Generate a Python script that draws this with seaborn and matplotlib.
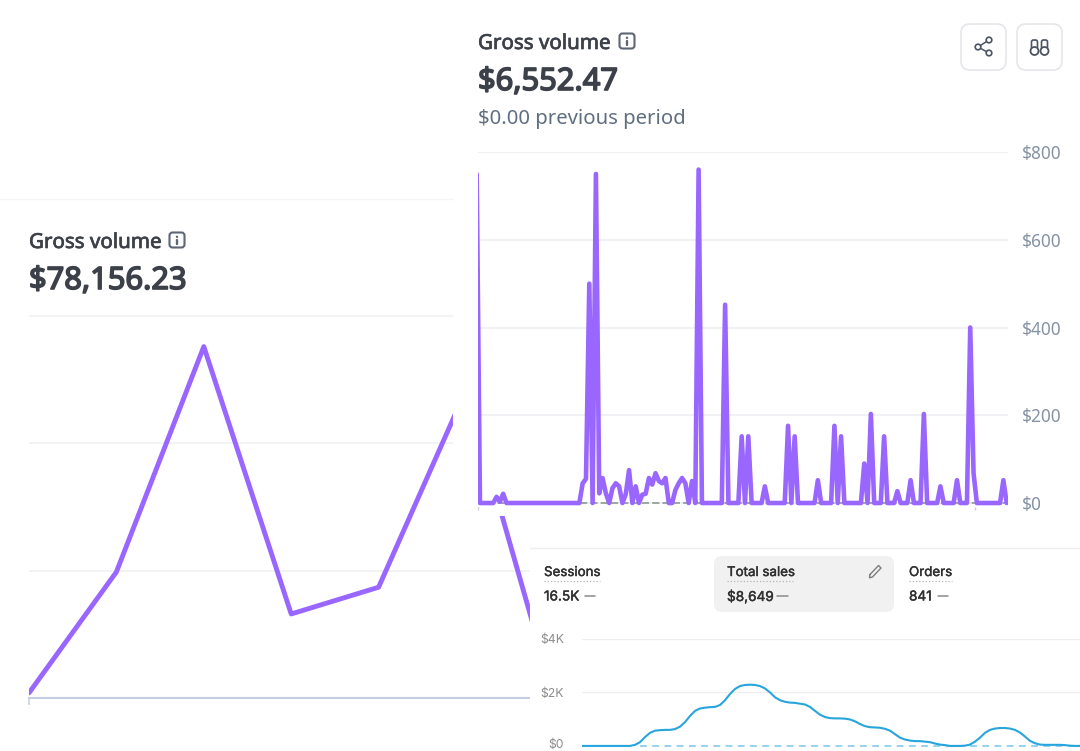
import matplotlib
matplotlib.use("Agg")
import matplotlib.pyplot as plt
import matplotlib.patheffects as pe
from matplotlib.patches import Circle, FancyBboxPatch, Rectangle
from matplotlib.transforms import ScaledTranslation
import seaborn as sns

W, H = 1080, 751

# left card, thousands of dollars per period
left_periods = [0, 1, 2, 3, 4, 5, 6]
left_values = [0.4, 9.9, 27.6, 6.6, 8.7, 24.2, 0.2]
left_ticks = [0, 10, 20, 30]

# right card, one value per day
right_values = [
    750, 0, 0, 0, 0, 0, 14, 3, 21, 0,
    0, 0, 0, 0, 0, 0, 0, 0, 0, 0,
    0, 0, 0, 0, 0, 0, 0, 0, 0, 0,
    0, 0, 45, 55, 500, 0, 750, 22, 57, 22,
    0, 34, 45, 38, 0, 20, 75, 0, 38, 0,
    19, 21, 57, 42, 68, 50, 45, 57, 0, 0,
    30, 45, 57, 45, 0, 50, 0, 760, 0, 0,
    0, 0, 0, 0, 0, 452, 0, 0, 0, 0,
    152, 0, 152, 0, 0, 0, 0, 38, 0, 0,
    0, 0, 0, 0, 176, 0, 152, 0, 0, 0,
    0, 0, 0, 52, 0, 0, 0, 0, 176, 0,
    152, 0, 0, 0, 0, 0, 0, 90, 0, 203,
    0, 0, 0, 152, 0, 0, 0, 27, 0, 0,
    0, 52, 0, 0, 0, 203, 0, 0, 0, 0,
    38, 0, 0, 0, 0, 52, 0, 0, 0, 400,
    68, 0, 0, 0, 0, 0, 0, 0, 0, 52,
    0,
]
right_previous = [0] * len(right_values)
right_ticks = [0, 200, 400, 600, 800]
right_labels = ["$0", "$200", "$400", "$600", "$800"]
right_marks = [0.4, 150.4]

# bottom card, thousands of dollars
sales_values = [
    0, 0, 0, 0, 0, 0, 0, 0, 0, 0, 0,
    0.04, 0.14, 0.33, 0.49, 0.57, 0.59, 0.6, 0.6, 0.63, 0.72,
    0.89, 1.12, 1.31, 1.4, 1.43, 1.45, 1.46, 1.53, 1.71, 1.94,
    2.13, 2.24, 2.28, 2.29, 2.28, 2.24, 2.15, 2.0, 1.82, 1.71,
    1.65, 1.62, 1.61, 1.58, 1.55, 1.46, 1.31, 1.17, 1.08, 1.04,
    1.03, 1.03, 1.02, 0.99, 0.92, 0.82, 0.74, 0.7, 0.69, 0.68,
    0.64, 0.57, 0.44, 0.31, 0.24, 0.2, 0.18, 0.18, 0.16, 0.14,
    0.09, 0.05, 0.03, 0, 0, 0, 0.01, 0.05, 0.16, 0.31,
    0.49, 0.6, 0.65, 0.67, 0.67, 0.65, 0.6, 0.5, 0.35, 0.19,
    0.1, 0.05, 0.04, 0.04, 0.04, 0.04, 0.03, 0.01, 0, 0,
]
sales_previous = [0] * (len(sales_values) - 12)
sales_ticks = [0, 2, 4]
sales_labels = ["$0", "$2K", "$4K"]

sns.set_theme(style="white")
plt.rcParams["font.family"] = ["Noto Sans", "DejaVu Sans"]

PURPLE = "#9966ff"
BLUE = "#27a5dd"
GRID = "#eef0f3"
INK = "#3c4149"
SLATE = "#5f6e80"
TICK = "#8592a3"


def px_axes(x0, y0, x1, y1, zorder):
    a = fig.add_axes([x0 / W, 1 - y1 / H, (x1 - x0) / W, (y1 - y0) / H], zorder=zorder)
    a.patch.set_alpha(0)
    sns.despine(ax=a, left=True, bottom=True, right=True, top=True)
    return a


fig = plt.figure(figsize=(W / 100, H / 100), dpi=100, facecolor="white")

# left chart, partly hidden by the two cards on top
ax_left = px_axes(29, 314, 640, 698, 0)
sns.lineplot(x=left_periods, y=left_values, ax=ax_left, color=PURPLE, linewidth=3.5,
             solid_joinstyle="round", errorbar=None)
ax_left.set_xlim(0, 611 / 87.4)
ax_left.set_ylim(0, 30 + 2 / 12.73)
ax_left.set_yticks(left_ticks[1:], [""] * 3)
ax_left.set_xticks([0], [""])
ax_left.tick_params(axis="x", bottom=True, length=5, width=1.5, color="#d6dbe8")
ax_left.tick_params(axis="y", length=0)
ax_left.grid(axis="y", color=GRID, linewidth=1.1)
ax_left.spines["bottom"].set_visible(True)
ax_left.spines["bottom"].set_color("#c6cde0")
ax_left.spines["bottom"].set_linewidth(1.5)

# white cards
ax_cover = px_axes(0, 0, W, H, 1)
ax_cover.set_xlim(0, W)
ax_cover.set_ylim(H, 0)
ax_cover.axis("off")
ax_cover.add_patch(Rectangle((453, 0), 627, 516, color="white", lw=0))
ax_cover.add_patch(Rectangle((530, 548), 550, 203, color="white", lw=0))

# right chart
ax_right = px_axes(478, 152, 1008, 507.4, 2)
days = list(range(len(right_values)))
sns.lineplot(x=days, y=right_previous, ax=ax_right, color="#9aa6a0", linewidth=1.4,
             linestyle="--", errorbar=None)
sns.lineplot(x=days, y=right_values, ax=ax_right, color=PURPLE, linewidth=3.3,
             solid_joinstyle="round", errorbar=None)
ax_right.set_xlim(0.4, 160.4)
ax_right.set_ylim(-10, 800)
ax_right.yaxis.tick_right()
ax_right.set_yticks(right_ticks, right_labels)
ax_right.set_xticks(right_marks, ["", ""])
ax_right.tick_params(axis="x", bottom=True, length=2.5, width=1, color="#c9ced6")
ax_right.tick_params(axis="y", length=0, pad=10, labelsize=12.4, labelcolor=TICK)
ax_right.grid(axis="y", color=GRID, linewidth=1.3)
ax_right.set_axisbelow(True)

# bottom chart
ax_sales = px_axes(582, 639, 1080, 751, 2)
sales_x = list(range(len(sales_values)))
sns.lineplot(x=sales_x[12:], y=sales_previous, ax=ax_sales, color="#7cc6e8", linewidth=1.1,
             linestyle=(0, (4.5, 3.5)), errorbar=None)
sns.lineplot(x=sales_x, y=sales_values, ax=ax_sales, color=BLUE, linewidth=1.5, errorbar=None)
ax_sales.set_xlim(0.4, 100)
ax_sales.set_ylim(-0.19, 4)
ax_sales.set_yticks(sales_ticks, sales_labels)
ax_sales.set_xticks([])
ax_sales.tick_params(axis="y", length=0, pad=13, labelsize=8.8, labelcolor="#8c8c8c")
for label in ax_sales.get_yticklabels():
    label.set_fontfamily(["Inter", "DejaVu Sans"])
zero_label = ax_sales.get_yticklabels()[0]
zero_label.set_transform(zero_label.get_transform() + ScaledTranslation(0, 2 / 72, fig.dpi_scale_trans))
ax_sales.grid(axis="y", color="#eeeeee", linewidth=0.9)
ax_sales.get_ygridlines()[0].set_visible(False)

# text, buttons and icons
ax_top = px_axes(0, 0, W, H, 5)
ax_top.set_xlim(0, W)
ax_top.set_ylim(H, 0)
ax_top.axis("off")

ax_top.plot([0, 453], [199, 199], color="#f6f6f6", lw=1)
ax_top.plot([530, 1080], [548, 548], color="#eceef0", lw=1)


def heavy(width, color):
    # the text families here only come in one weight
    return [pe.withStroke(linewidth=width, foreground=color)]


def info_icon(x, y):
    ax_top.add_patch(FancyBboxPatch((x - 7.5, y - 7.5), 15, 15, boxstyle="round,pad=0,rounding_size=3",
                                    fill=False, ec="#5d6675", lw=1.5))
    ax_top.add_patch(Circle((x, y - 3.2), 1.2, color="#5d6675", lw=0))
    ax_top.plot([x, x], [y - 0.5, y + 4], color="#5d6675", lw=1.7)


for x, y, amount in [(29, 243, "$78,156.23"), (478, 44, "$6,552.47")]:
    ax_top.text(x, y, "Gross volume", fontsize=14.8, color=INK, va="center", ha="left",
                path_effects=heavy(0.5, INK))
    ax_top.text(x, y + 38, amount, fontsize=22.2, color=INK, va="center", ha="left",
                path_effects=heavy(1.2, INK))
info_icon(177, 240)
info_icon(627, 41)
ax_top.text(478, 119, "$0.00 previous period", fontsize=14.6, color=SLATE, va="center", ha="left")

# share and binoculars buttons
for x in [961, 1017]:
    ax_top.add_patch(FancyBboxPatch((x, 24), 45, 46, boxstyle="round,pad=0,rounding_size=9",
                                    fc="white", ec="#e6e8ec", lw=1.3))
for cx, cy in [(989, 40), (978, 47), (989, 53)]:
    ax_top.add_patch(Circle((cx, cy), 2.8, fc="white", ec="#4a5362", lw=1.2, zorder=3))
ax_top.plot([989, 978, 989], [40, 47, 53], color="#4a5362", lw=1.1, zorder=2)
for cx in [1034.5, 1044.5]:
    ax_top.add_patch(Circle((cx, 51), 4, fc="white", ec="#4a5362", lw=1.3, zorder=3))
    ax_top.add_patch(FancyBboxPatch((cx - 3, 40), 6, 9, boxstyle="round,pad=0,rounding_size=2",
                                    fill=False, ec="#4a5362", lw=1.2))

# metric tiles
ax_top.add_patch(FancyBboxPatch((714, 556), 180, 56, boxstyle="round,pad=0,rounding_size=8",
                                fc="#f1f1f1", ec="none"))
for x, name, val, w in [(544, "Sessions", "16.5K", 56), (727, "Total sales", "$8,649", 66), (909, "Orders", "841", 43)]:
    ax_top.text(x, 573, name, fontsize=9.6, color="#303030", va="center", ha="left",
                family=["Inter", "DejaVu Sans"], path_effects=heavy(0.3, "#303030"))
    ax_top.plot([x, x + w], [581, 581], color="#b5b5b5", lw=0.9, linestyle=(0, (1, 1.6)))
    ax_top.text(x, 596.5, val, fontsize=9.8, color="#303030", va="center", ha="left",
                family=["Inter", "DejaVu Sans"], path_effects=heavy(0.3, "#303030"))
for x0, x1 in [(585, 595), (777, 788), (938, 948)]:
    ax_top.plot([x0, x1], [596, 596], color="#8a8a8a", lw=1.1)

# pencil icon
ax_top.plot([870, 878.5, 881, 872.5, 869.5, 870], [574.5, 565.5, 568, 577, 577.8, 574.5], color="#7d7d7d", lw=1)

fig.savefig("out.png", dpi=100, facecolor="white")
